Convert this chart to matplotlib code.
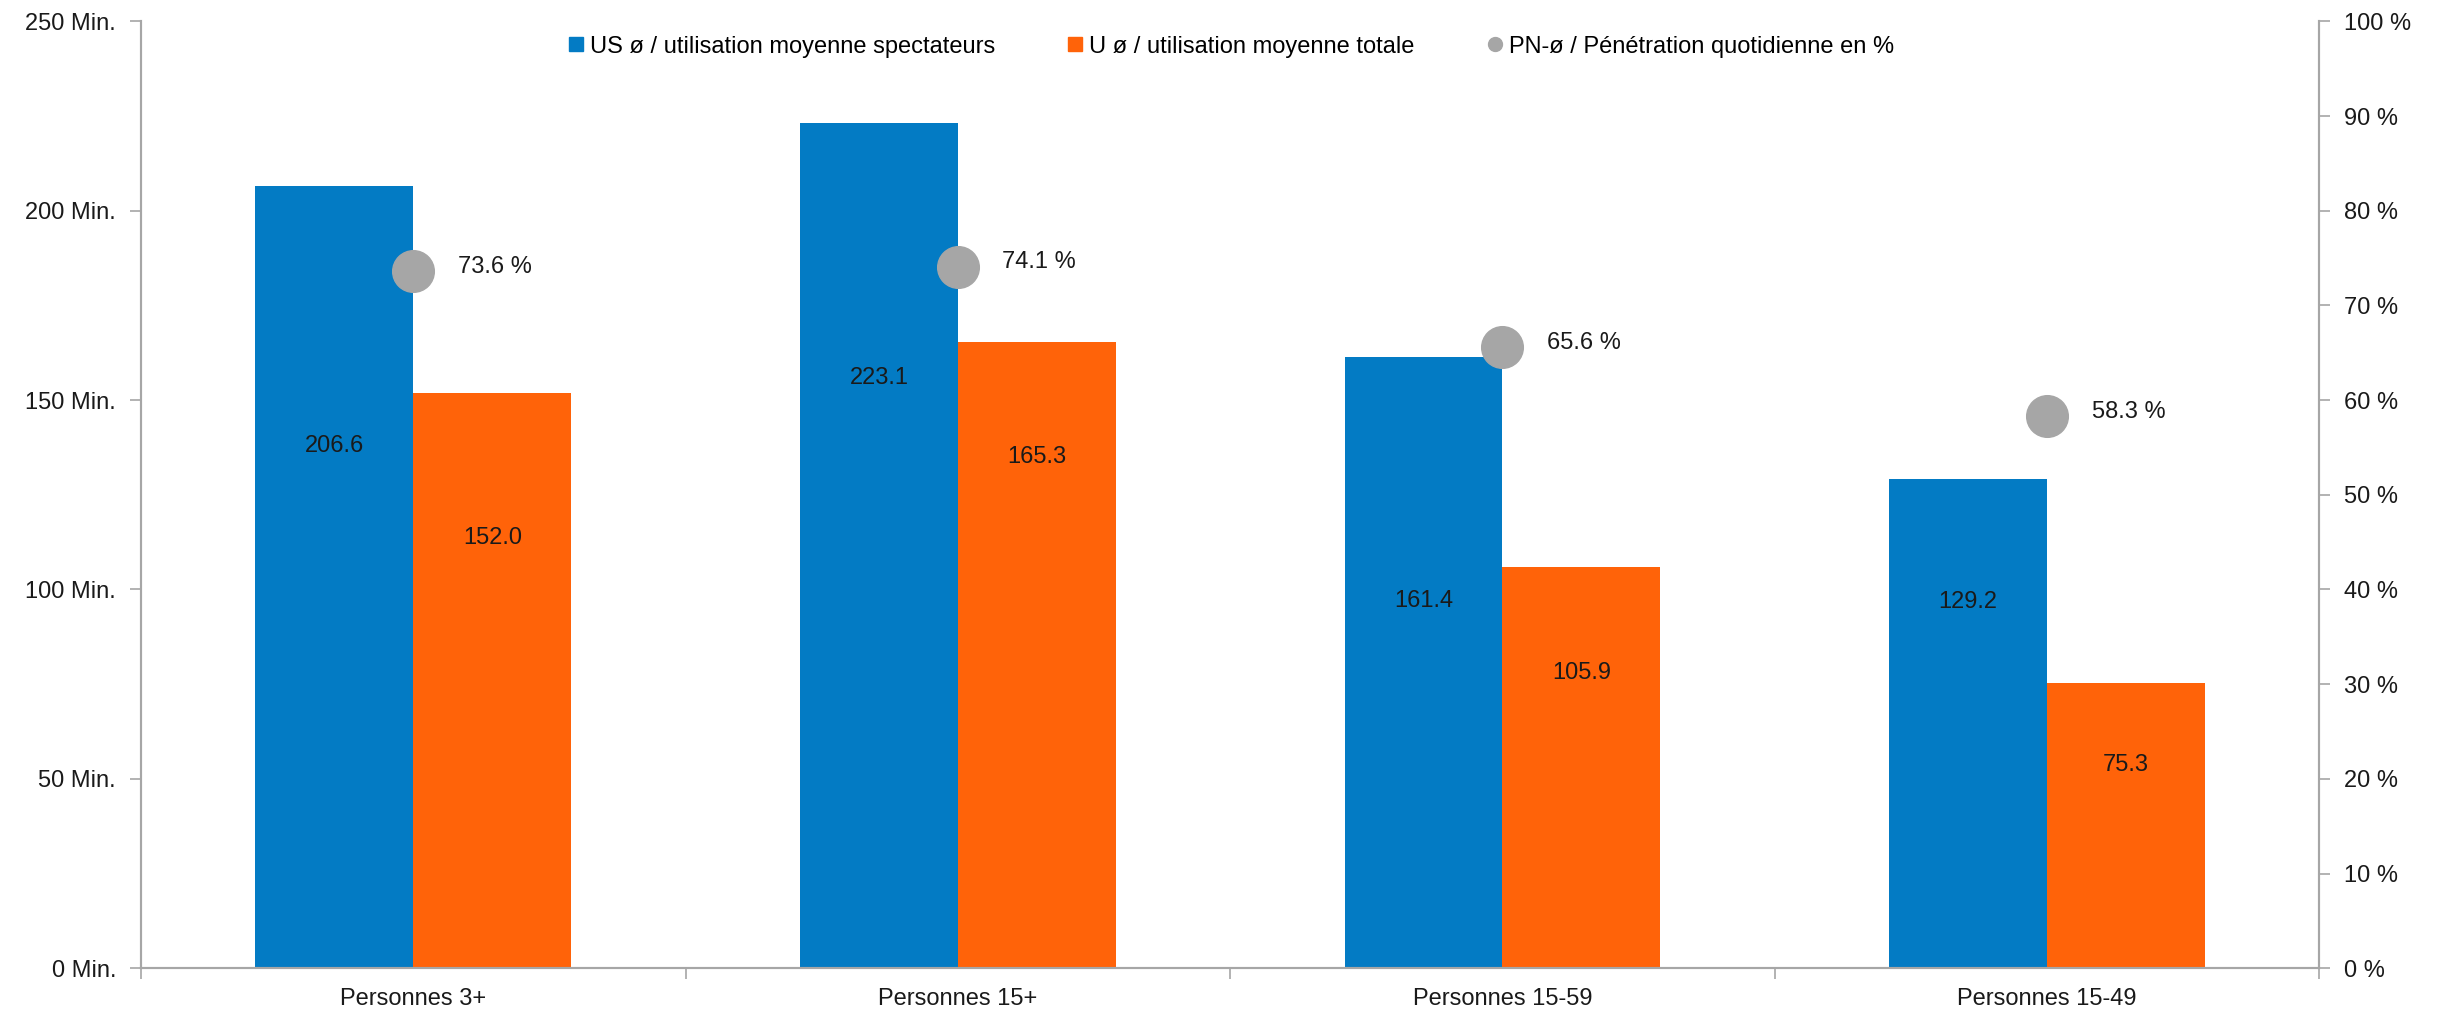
import matplotlib.pyplot as plt
from matplotlib.lines import Line2D
import numpy as np

plt.rcParams['font.family'] = ['Liberation Sans', 'DejaVu Sans']

categories = ["Personnes 3+", "Personnes 15+", "Personnes 15-59", "Personnes 15-49"]
us_minutes = [206.6, 223.1, 161.4, 129.2]
u_minutes = [152.0, 165.3, 105.9, 75.3]
penetration = [73.6, 74.1, 65.6, 58.3]
left_ticks = [0, 50, 100, 150, 200, 250]
right_ticks = [0, 10, 20, 30, 40, 50, 60, 70, 80, 90, 100]

legend_labels = ["US ø / utilisation moyenne spectateurs",
                 "U ø / utilisation moyenne totale",
                 "PN-ø / Pénétration quotidienne en %"]

# where the value labels sit inside the bars (fraction of bar height)
us_label_pos = [0.667, 0.698, 0.600, 0.748]
u_label_pos = [0.747, 0.817, 0.735, 0.713]

blue = "#037BC4"
orange = "#FF6309"
grey = "#A6A6A6"
axis_col = "#A6A6A6"
text_col = "#1A1A1A"
fs = 17

fig = plt.figure(figsize=(24.44, 10.16), dpi=100)
ax = fig.add_axes([0.0577, 0.047, 0.949 - 0.0577, 0.979 - 0.047])
ax2 = ax.twinx()

x = np.arange(len(categories))
w = 0.29
ax.bar(x - w / 2, us_minutes, w, color=blue, zorder=2)
ax.bar(x + w / 2, u_minutes, w, color=orange, zorder=2)

for i in range(len(categories)):
    ax.text(x[i] - w / 2, us_minutes[i] * us_label_pos[i], "%.1f" % us_minutes[i],
            ha="center", va="center", fontsize=fs, color=text_col)
    ax.text(x[i] + w / 2, u_minutes[i] * u_label_pos[i], "%.1f" % u_minutes[i],
            ha="center", va="center", fontsize=fs, color=text_col)

ax2.plot(x, penetration, linestyle="none", marker="o", markersize=30,
         color=grey, zorder=3)
for i in range(len(categories)):
    ax2.annotate("%.1f %%" % penetration[i], (x[i], penetration[i]),
                 xytext=(32, 3), textcoords="offset points",
                 ha="left", va="center", fontsize=fs, color=text_col)

ax.set_xlim(-0.5, len(categories) - 0.5)
ax.set_ylim(0, 250)
ax2.set_ylim(0, 100)

ax.set_yticks(left_ticks)
ax.set_yticklabels(["%d Min." % t for t in left_ticks])
ax2.set_yticks(right_ticks)
ax2.set_yticklabels(["%d %%" % t for t in right_ticks])

ax.set_xticks(x)
ax.set_xticklabels(categories)
ax.set_xticks(np.arange(-0.5, len(categories), 1.0), minor=True)
ax.tick_params(axis="x", which="major", length=0, pad=14, labelsize=fs, labelcolor=text_col)
ax.tick_params(axis="x", which="minor", length=8, width=1.2, color=axis_col)
ax.tick_params(axis="y", length=8, width=1.2, color=axis_col, labelsize=fs,
               labelcolor=text_col, pad=10)
ax2.tick_params(axis="y", length=8, width=1.2, color=axis_col, labelsize=fs,
                labelcolor=text_col, pad=10)

for a in (ax, ax2):
    a.spines["top"].set_visible(False)
    for s in ("left", "right", "bottom"):
        a.spines[s].set_color(axis_col)
        a.spines[s].set_linewidth(1.5)

handles = [
    Line2D([], [], linestyle="none", marker="s", markersize=10, color=blue),
    Line2D([], [], linestyle="none", marker="s", markersize=10, color=orange),
    Line2D([], [], linestyle="none", marker="o", markersize=10, color=grey),
]
ax.legend(handles, legend_labels, loc="upper center", bbox_to_anchor=(0.5, 1.0),
          ncol=3, frameon=False, fontsize=fs, handletextpad=0.2,
          columnspacing=3.0, handlelength=0.8, borderaxespad=0.2)

fig.savefig("out.png", dpi=100)
